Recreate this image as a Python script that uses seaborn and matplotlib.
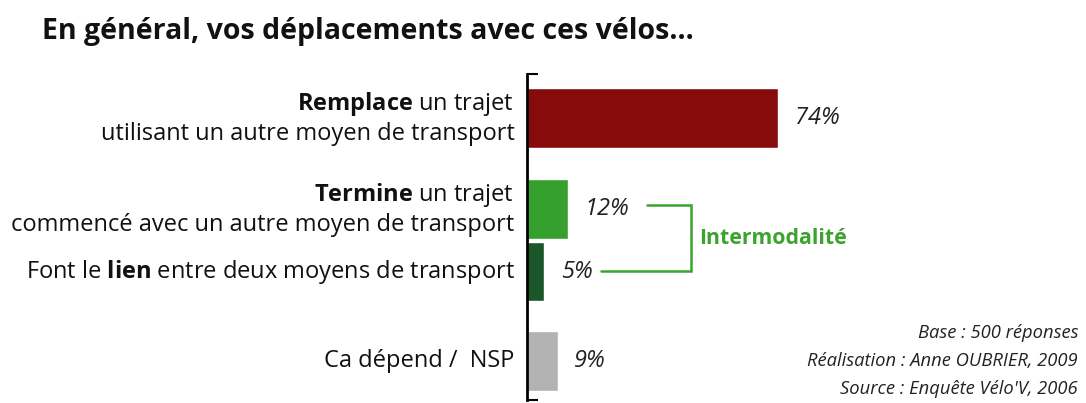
import matplotlib
matplotlib.use("Agg")
import matplotlib.pyplot as plt
import seaborn as sns
import pandas as pd

# ---- data ----
categories = [
    "$\\mathbf{Remplace}$ un trajet \nutilisant un autre moyen de transport",
    "$\\mathbf{Termine}$ un trajet \ncommencé avec un autre moyen de transport",
    "Font le $\\mathbf{lien}$ entre deux moyens de transport",
    "Ca dépend /  NSP",
]
values = [74, 12, 5, 9]
value_labels = ["74%", "12%", "5%", "9%"]
title = "En général, vos déplacements avec ces vélos..."
bracket_label = "Intermodalité"
footnotes = "Base : 500 réponses\nRéalisation : Anne OUBRIER, 2009\nSource : Enquête Vélo'V, 2006"

# ---- layout / style ----
row_pos = [0.0, 1.46, 2.46, 3.89]
colors = ["#870B0B", "#35A02D", "#19572A", "#B3B3B3"]
green_txt = "#3BA32E"
FONT = "Open Sans"

sns.set_theme(style="white")
plt.rcParams["font.family"] = [FONT, "DejaVu Sans"]
plt.rcParams["mathtext.fontset"] = "custom"
plt.rcParams["mathtext.rm"] = FONT
plt.rcParams["mathtext.bf"] = FONT + ":bold"
plt.rcParams["mathtext.it"] = FONT + ":italic"

W, H = 1086, 403
fig = plt.figure(figsize=(W / 100, H / 100), dpi=100)
px_per_unit = 251 / 74.0
ax_w = 559
ax = fig.add_axes([527 / W, 3 / H, ax_w / W, 326 / H])

df = pd.DataFrame({"pos": row_pos, "val": values, "cat": [str(i) for i in range(4)]})
sns.barplot(data=df, x="val", y="pos", hue="cat", palette=colors, orient="h",
            native_scale=True, width=0.952, legend=False, ax=ax, saturation=1)

ax.set_xlim(0, ax_w / px_per_unit)
ylo, yhi = 4.492, -0.683
ax.set_ylim(ylo, yhi)
for s in ["top", "right", "bottom"]:
    ax.spines[s].set_visible(False)
ax.spines["left"].set_color("black")
ax.spines["left"].set_linewidth(2)
ax.set_xticks([])
ax.set_yticks([ylo + 0.02, yhi - 0.02])
ax.set_yticklabels([])
ax.tick_params(axis="y", direction="in", length=8, width=1.5, color="black", left=True)
ax.set_xlabel("")
ax.set_ylabel("")

# category labels
for p, c in zip(row_pos, categories):
    ax.annotate(c, xy=(0, p), xycoords="data", xytext=(-9, 0), textcoords="offset points",
                ha="right", va="center", fontsize=17, color="#111111",
                multialignment="right", linespacing=1.22, annotation_clip=False)

# value labels
for p, v, lab in zip(row_pos, values, value_labels):
    ax.annotate(lab, xy=(v, p), xytext=(12, 0), textcoords="offset points",
                ha="left", va="center", fontsize=17, style="italic", color="#222222",
                annotation_clip=False)

# bracket for intermodality
bx_top_start, bx_bot_start, bx_right = 35.4, 21.8, 48.3
y_top, y_bot = row_pos[1] - 0.06, row_pos[2] - 0.01
ax.plot([bx_top_start, bx_right, bx_right, bx_bot_start], [y_top, y_top, y_bot, y_bot],
        color=green_txt, lw=1.8, clip_on=False, solid_joinstyle="miter")
ax.text(bx_right + 2.3, (y_top + y_bot) / 2, bracket_label, color=green_txt, fontsize=15.3,
        fontweight="bold", ha="left", va="center")

fig.text(42 / W, 1 - 31 / H, title, fontsize=20.5, fontweight="bold", ha="left",
         va="center", color="#111111")
fig.text(1078 / W, 1 - 361 / H, footnotes, fontsize=13.2, style="italic", ha="right",
         va="center", multialignment="right", linespacing=1.68, color="#222222")

fig.savefig("out.png", dpi=100)
